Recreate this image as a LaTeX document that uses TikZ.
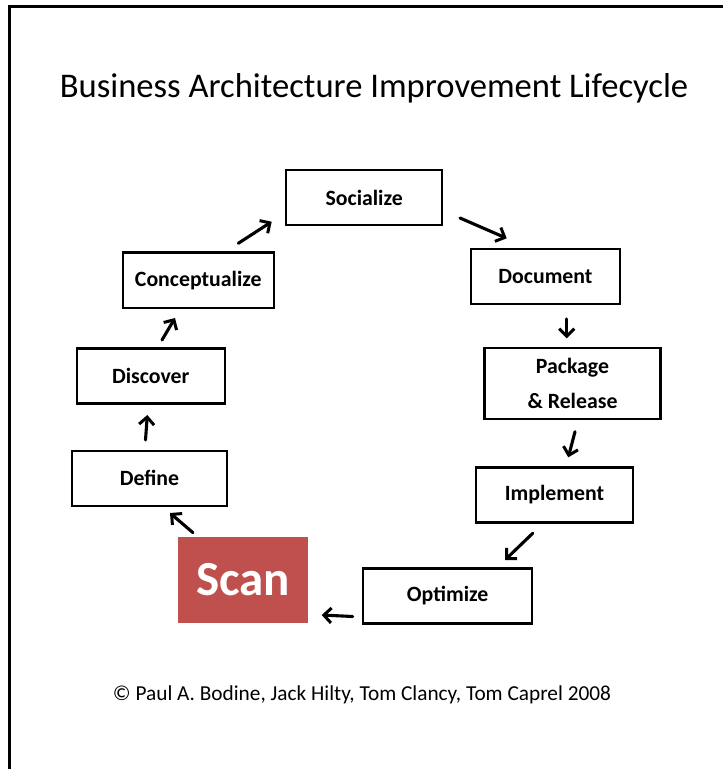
\documentclass[tikz,border=0pt]{standalone}
\usepackage{fontspec}
\setmainfont{Carlito}
\usetikzlibrary{arrows.meta}
\definecolor{scanred}{HTML}{C0504D}
\begin{document}
\begin{tikzpicture}[x=1pt,y=-1pt,
  stage/.style={draw=black,line width=2.3pt,inner sep=0pt,
    font=\fontsize{21.8}{35}\selectfont\bfseries,align=center},
  arr/.style={line width=3.1pt,line cap=round,
    -{Straight Barb[length=7.5pt,width=15pt,line width=3pt]}}]
\useasboundingbox (0,0) rectangle (723,769);
\draw[line width=3pt] (9,769) -- (9,6.5) -- (723,6.5);
\node[font=\fontsize{34.6}{40}\selectfont] (title) at (374,88) {Business Architecture Improvement Lifecycle};
\node[stage,minimum width=156pt,minimum height=55pt] (soc) at (364.2,197.7) {Socialize};
\node[stage,minimum width=149pt,minimum height=55pt] (doc) at (545.5,276.5) {Document};
\node[stage,minimum width=176pt,minimum height=71pt] (pkg) at (572.5,383.7) {Package\\\& Release};
\node[stage,minimum width=157pt,minimum height=55pt] (imp) at (554.5,495) {Implement};
\node[stage,minimum width=169pt,minimum height=55pt] (opt) at (447.7,596) {Optimize};
\node[fill=scanred,text=white,inner sep=0pt,minimum width=130pt,minimum height=85.4pt,
  font=\fontsize{49}{54}\selectfont\bfseries] (scan) at (243.3,580) {Scan};
\node[stage,minimum width=155pt,minimum height=55pt] (def) at (149.5,478.3) {Define};
\node[stage,minimum width=148pt,minimum height=55pt] (dis) at (150.8,376) {Discover};
\node[stage,minimum width=151pt,minimum height=55.5pt] (con) at (198.3,280.3) {Conceptualize};
\node[font=\fontsize{21.3}{26}\selectfont] (copy) at (362,695) {© Paul A. Bodine, Jack Hilty, Tom Clancy, Tom Caprel 2008};
% arrow end points
\coordinate (a1s) at (238.3,243.3); \coordinate (a1e) at (271.7,221.7);
\coordinate (a2s) at (460,218);     \coordinate (a2e) at (506.7,238.3);
\coordinate (a3s) at (566.7,319);   \coordinate (a3e) at (566.7,338.3);
\coordinate (a4s) at (575,431.7);   \coordinate (a4e) at (568.3,457.3);
\coordinate (a5s) at (532.7,533.3); \coordinate (a5e) at (505,560);
\coordinate (a6s) at (352.7,616.5); \coordinate (a6e) at (321.7,615);
\coordinate (a7s) at (193,532.7);   \coordinate (a7e) at (170,513);
\coordinate (a8s) at (145.5,440);   \coordinate (a8e) at (147.3,415);
\coordinate (a9s) at (162,340);     \coordinate (a9e) at (175,318);
\foreach \i in {1,...,9}{\draw[arr] (a\i s) -- (a\i e);}
\end{tikzpicture}
\end{document}
